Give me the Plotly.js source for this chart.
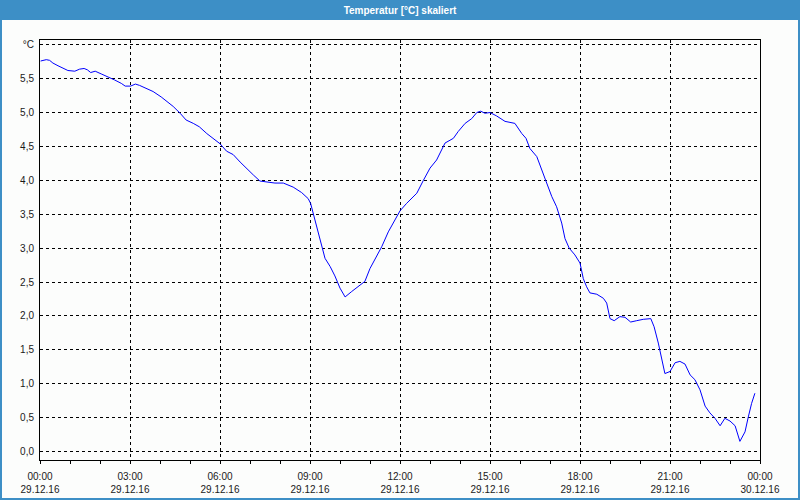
<!DOCTYPE html>
<html>
<head>
<meta charset="utf-8">
<script src="https://cdn.plot.ly/plotly-3.0.1.min.js"></script>
<style>
html,body{margin:0;padding:0;background:#fcfdfc;}
#chart{width:800px;height:500px;}
</style>
</head>
<body>
<div id="chart"></div>
<script>
// Hours since 29.12.16 00:00
const hours = [0.02,0.21,0.32,0.43,0.6,0.77,0.93,1.16,1.32,1.47,1.58,1.69,1.84,2.04,2.27,2.49,2.71,2.84,3.02,3.18,3.32,3.49,3.77,4.04,4.24,4.44,4.67,4.87,5.11,5.31,5.56,5.78,6.0,6.22,6.44,6.67,6.89,7.11,7.33,7.56,7.83,8.11,8.44,8.72,8.94,9.02,9.17,9.33,9.5,9.67,9.83,10.0,10.17,10.39,10.61,10.83,11.0,11.22,11.39,11.61,11.83,12.0,12.22,12.56,12.78,13.0,13.22,13.5,13.78,13.94,14.17,14.39,14.56,14.69,14.83,15.0,15.22,15.5,15.83,16.06,16.2,16.33,16.56,16.72,16.89,17.06,17.22,17.39,17.5,17.64,17.83,18.0,18.11,18.22,18.33,18.56,18.78,18.89,19.0,19.14,19.33,19.5,19.69,19.89,20.11,20.36,20.47,20.61,20.72,20.83,21.0,21.17,21.33,21.5,21.67,21.83,22.0,22.17,22.33,22.5,22.67,22.83,23.0,23.17,23.33,23.5,23.61,23.72,23.83];
const temps = [5.76,5.78,5.77,5.73,5.69,5.65,5.62,5.61,5.64,5.65,5.63,5.59,5.61,5.57,5.53,5.48,5.43,5.39,5.39,5.42,5.40,5.37,5.31,5.23,5.16,5.09,4.99,4.89,4.84,4.79,4.69,4.62,4.54,4.43,4.38,4.27,4.17,4.08,3.99,3.98,3.96,3.96,3.90,3.82,3.73,3.66,3.41,3.12,2.85,2.73,2.59,2.41,2.28,2.36,2.43,2.51,2.70,2.87,3.02,3.24,3.41,3.55,3.66,3.81,4.00,4.18,4.30,4.55,4.62,4.72,4.84,4.91,5.00,5.02,4.99,5.00,4.95,4.87,4.84,4.69,4.62,4.47,4.35,4.15,3.96,3.76,3.61,3.37,3.14,3.00,2.90,2.78,2.55,2.43,2.34,2.32,2.26,2.19,1.96,1.93,1.99,1.98,1.91,1.93,1.95,1.96,1.84,1.60,1.35,1.15,1.18,1.31,1.33,1.29,1.13,1.06,0.91,0.67,0.57,0.49,0.38,0.49,0.45,0.38,0.15,0.29,0.51,0.71,0.86];

const xTickVals = [0,3,6,9,12,15,18,21,24];
const xTickText = ["00:00<br>29.12.16","03:00<br>29.12.16","06:00<br>29.12.16","09:00<br>29.12.16","12:00<br>29.12.16","15:00<br>29.12.16","18:00<br>29.12.16","21:00<br>29.12.16","00:00<br>30.12.16"];
const yTickVals = [0,0.5,1,1.5,2,2.5,3,3.5,4,4.5,5,5.5,6];
const yTickText = ["0,0","0,5","1,0","1,5","2,0","2,5","3,0","3,5","4,0","4,5","5,0","5,5","°C"];
const chartTitle = "Temperatur [°C] skaliert";

const W = 800, H = 500, ML = 40, MR = 40, MT = 40, MB = 40;
const PW = W - ML - MR, PH = H - MT - MB;
const px = v => (v - ML) / PW;            // figure px -> paper x
const py = v => 1 - (v - MT) / PH;        // figure px (from top) -> paper y

const font = {family: "Liberation Sans, Arial, sans-serif", size: 10, color: "#1a1a1a"};

const trace = {
  x: hours, y: temps, type: "scatter", mode: "lines",
  line: {color: "#0000ff", width: 1}, hoverinfo: "skip"
};

const layout = {
  width: W, height: H,
  margin: {l: ML, r: MR, t: MT, b: MB, pad: 0},
  paper_bgcolor: "#fcfdfc", plot_bgcolor: "#fcfdfc",
  font: font,
  showlegend: false,
  title: {
    text: "<b>" + chartTitle + "</b>",
    font: {family: "Liberation Sans, Arial, sans-serif", size: 10, color: "#ffffff"},
    x: 0.5, xanchor: "center", xref: "container",
    y: 1 - 10 / H, yanchor: "middle", yref: "container"
  },
  xaxis: {
    range: [0, 24], fixedrange: true,
    tickmode: "array", tickvals: xTickVals, ticktext: xTickText,
    ticks: "outside", ticklen: 3, tickcolor: "#000", tickwidth: 1,
    ticklabelstandoff: 4,
    showgrid: true, gridcolor: "#000", gridwidth: 1, griddash: "3px,3px",
    showline: true, linecolor: "#000", linewidth: 1, mirror: true,
    zeroline: false,
    minor: {tickmode: "linear", tick0: 0, dtick: 1, ticks: "outside", ticklen: 3, tickcolor: "#000", showgrid: false},
    tickfont: font
  },
  yaxis: {
    range: [-0.125, 6.07], fixedrange: true,
    tickmode: "array", tickvals: yTickVals, ticktext: yTickText,
    ticks: "", ticklabelstandoff: 3,
    showgrid: true, gridcolor: "#000", gridwidth: 1, griddash: "3px,3px",
    showline: true, linecolor: "#000", linewidth: 1, mirror: true,
    zeroline: false,
    tickfont: font
  },
  shapes: [
    {type: "rect", xref: "paper", yref: "paper", layer: "below",
     x0: px(0), x1: px(W), y0: py(0), y1: py(20),
     fillcolor: "#3d8fc6", line: {width: 0}},
    {type: "rect", xref: "paper", yref: "paper", layer: "above",
     x0: px(1), x1: px(W - 1), y0: py(1), y1: py(H - 1),
     fillcolor: "rgba(0,0,0,0)", line: {color: "#3d8fc6", width: 2}}
  ]
};

Plotly.newPlot("chart", [trace], layout, {displayModeBar: false, staticPlot: true});
</script>
</body>
</html>
